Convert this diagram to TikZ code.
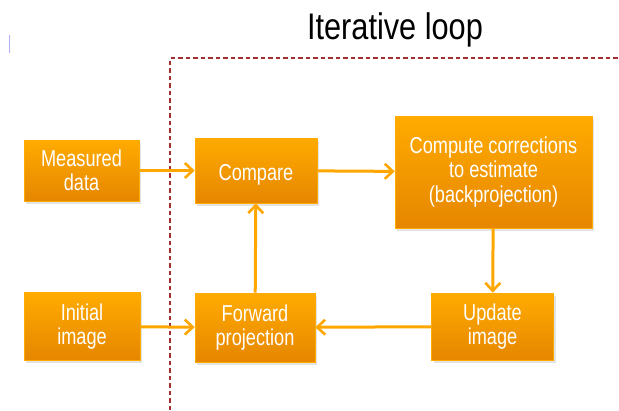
\documentclass[tikz,border=0pt]{standalone}
\usepackage{fontspec}
\setmainfont[FakeStretch=0.79]{Liberation Sans}
\newfontfamily\titlefont[FakeStretch=0.83]{Liberation Sans}
\usetikzlibrary{arrows.meta,shadows}
\definecolor{boxtop}{RGB}{255,171,0}
\definecolor{boxbot}{RGB}{230,134,0}
\definecolor{flowor}{RGB}{255,166,0}
\definecolor{loopred}{RGB}{160,48,48}
\definecolor{tickblue}{RGB}{176,176,240}

\tikzset{
  stepbox/.style={top color=boxtop, bottom color=boxbot, draw=boxtop,
    line width=0.6pt, text=white, align=center, inner sep=0pt,
    font=\fontsize{23}{24.5}\selectfont,
    execute at begin node={\rule{0pt}{24pt}},
    drop shadow={shadow xshift=2pt, shadow yshift=-2.5pt, opacity=0.22}},
  flow/.style={draw=flowor, line width=3pt,
    -{Straight Barb[length=8pt,width=15pt,line width=2.6pt]}}
}

\begin{document}
\begin{tikzpicture}[x=1pt,y=-1pt]
  \useasboundingbox (0,0) rectangle (619,410);
  \node (title) at (395,30) {\titlefont\fontsize{37}{40}\selectfont Iterative loop};
  \draw[loopred, dash pattern=on 4.5pt off 3pt, line width=1.1pt]
    (170,410) -- (170,58) -- (619,58);
  \draw[tickblue, line width=0.8pt] (9,35) -- (9,53);

  \node[stepbox, minimum width=115pt, minimum height=61pt] (meas) at (81.5,170.5) {Measured\\data};
  \node[stepbox, minimum width=122pt, minimum height=65pt] (comp) at (256,170.5) {Compare};
  \node[stepbox, minimum width=197pt, minimum height=112pt] (corr) at (493.5,172) {Compute corrections\\to estimate\\(backprojection)};
  \node[stepbox, minimum width=116pt, minimum height=68pt] (init) at (82,326.5) {Initial\\image};
  \node[stepbox, minimum width=120pt, minimum height=69pt] (fwd) at (255,327.5) {Forward\\projection};
  \node[stepbox, minimum width=122pt, minimum height=67pt] (upd) at (492.5,326.5) {Update\\image};

  \draw[flow] (meas) -- (comp);
  \draw[flow] (comp) -- (corr);
  \draw[flow] (corr) -- (upd);
  \draw[flow] (upd) -- (fwd);
  \draw[flow] (init) -- (fwd);
  \draw[flow] (fwd) -- (comp);
\end{tikzpicture}
\end{document}
